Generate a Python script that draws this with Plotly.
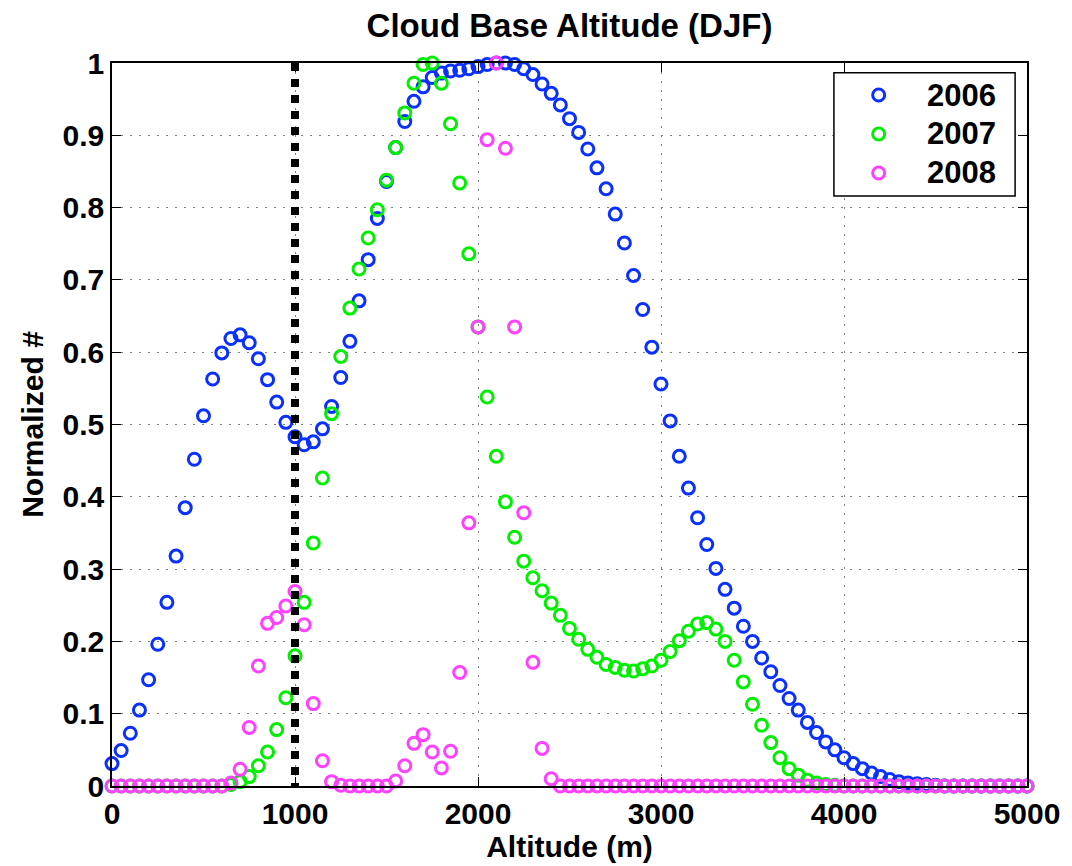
import plotly.graph_objects as go

# Altitude bins (m), 50 m spacing
altitude = list(range(0, 5001, 50))

# Normalized cloud-base counts per bin
y2006 = [
    0.031, 0.049, 0.073, 0.105, 0.147, 0.196, 0.254, 0.318, 0.385, 0.452,
    0.512, 0.563, 0.599, 0.619, 0.624, 0.613, 0.591, 0.562, 0.531, 0.503,
    0.483, 0.472, 0.476, 0.494, 0.525, 0.565, 0.615, 0.671, 0.728, 0.785,
    0.836, 0.883, 0.919, 0.947, 0.967, 0.980, 0.986, 0.989, 0.990, 0.992,
    0.995, 0.998, 1.000, 1.000, 0.998, 0.992, 0.984, 0.971, 0.958, 0.942,
    0.923, 0.904, 0.881, 0.855, 0.826, 0.791, 0.751, 0.706, 0.659, 0.607,
    0.556, 0.505, 0.456, 0.412, 0.371, 0.334, 0.301, 0.272, 0.246, 0.221,
    0.200, 0.177, 0.158, 0.139, 0.121, 0.105, 0.088, 0.074, 0.061, 0.050,
    0.039, 0.031, 0.024, 0.018, 0.013, 0.009, 0.006, 0.004, 0.003, 0.002,
    0.001, 0.0, 0.0, 0.0, 0.0, 0.0, 0.0, 0.0, 0.0, 0.0,
    0.0,
]
y2007 = [
    0.0, 0.0, 0.0, 0.0, 0.0, 0.0, 0.0, 0.0, 0.0, 0.0,
    0.0, 0.0, 0.0, 0.002, 0.006, 0.013, 0.028, 0.047, 0.078, 0.122,
    0.180, 0.254, 0.336, 0.426, 0.515, 0.594, 0.661, 0.715, 0.758, 0.797,
    0.838, 0.883, 0.931, 0.972, 0.998, 1.000, 0.972, 0.916, 0.834, 0.736,
    0.635, 0.538, 0.456, 0.393, 0.344, 0.311, 0.288, 0.270, 0.253, 0.236,
    0.218, 0.203, 0.189, 0.178, 0.168, 0.164, 0.160, 0.159, 0.162, 0.166,
    0.174, 0.186, 0.201, 0.214, 0.224, 0.226, 0.217, 0.200, 0.174, 0.144,
    0.113, 0.084, 0.060, 0.039, 0.024, 0.015, 0.008, 0.004, 0.002, 0.001,
    0.0, 0.0, 0.0, 0.0, 0.0, 0.0, 0.0, 0.0, 0.0, 0.0,
    0.0, 0.0, 0.0, 0.0, 0.0, 0.0, 0.0, 0.0, 0.0, 0.0,
    0.0,
]
y2008 = [
    0.0, 0.0, 0.0, 0.0, 0.0, 0.0, 0.0, 0.0, 0.0, 0.0,
    0.0, 0.0, 0.0, 0.004, 0.023, 0.081, 0.166, 0.225, 0.233, 0.249,
    0.269, 0.223, 0.114, 0.035, 0.006, 0.001, 0.0, 0.0, 0.0, 0.0,
    0.0, 0.007, 0.028, 0.059, 0.071, 0.047, 0.025, 0.048, 0.157, 0.364,
    0.635, 0.894, 1.000, 0.882, 0.635, 0.378, 0.171, 0.052, 0.010, 0.0,
    0.0, 0.0, 0.0, 0.0, 0.0, 0.0, 0.0, 0.0, 0.0, 0.0,
    0.0, 0.0, 0.0, 0.0, 0.0, 0.0, 0.0, 0.0, 0.0, 0.0,
    0.0, 0.0, 0.0, 0.0, 0.0, 0.0, 0.0, 0.0, 0.0, 0.0,
    0.0, 0.0, 0.0, 0.0, 0.0, 0.0, 0.0, 0.0, 0.0, 0.0,
    0.0, 0.0, 0.0, 0.0, 0.0, 0.0, 0.0, 0.0, 0.0, 0.0,
    0.0,
]

series_names = ["2006", "2007", "2008"]
series_colors = ["#0a30ff", "#00ee00", "#ff40ff"]

# Reference altitude marked by the vertical dotted line
threshold_alt = [1000, 1000]
threshold_y = [1, 0]

x_ticks = [0, 1000, 2000, 3000, 4000, 5000]
x_ticklabels = ["0", "1000", "2000", "3000", "4000", "5000"]
y_ticks = [0, 0.1, 0.2, 0.3, 0.4, 0.5, 0.6, 0.7, 0.8, 0.9, 1]
y_ticklabels = ["0", "0.1", "0.2", "0.3", "0.4", "0.5", "0.6", "0.7", "0.8", "0.9", "1"]

FONT = "Liberation Sans"
MARKER_SIZE = 12
MARKER_LW = 3

fig = go.Figure()
for name, ys, col in zip(series_names, [y2006, y2007, y2008], series_colors):
    fig.add_trace(go.Scatter(
        x=altitude, y=ys, name=name, mode="markers",
        cliponaxis=False, showlegend=False,
        marker=dict(symbol="circle-open", size=MARKER_SIZE, color=col,
                    line=dict(width=MARKER_LW, color=col)),
    ))

fig.add_trace(go.Scatter(
    x=threshold_alt, y=threshold_y, mode="lines", showlegend=False,
    cliponaxis=False, hoverinfo="skip",
    line=dict(color="black", width=8, dash="8px,8px"),
))

axis_common = dict(
    showline=True, linecolor="black", linewidth=1.5, mirror="ticks",
    ticks="inside", ticklen=9, tickwidth=1, tickcolor="black",
    showgrid=True, gridcolor="#808080", gridwidth=1, griddash="2px,7px",
    zeroline=False,
    tickfont=dict(family=FONT, size=30, color="black", weight="bold"),
)

# Legend box in the upper-right corner of the axes (paper coordinates)
legend_box = dict(x0=0.789, x1=0.987, y0=0.816, y1=0.9866)
legend_marker_x = 0.8379
legend_text_x = 0.889
legend_rows_y = [0.9557, 0.9018, 0.8479]

fig.add_shape(
    type="rect", xref="paper", yref="paper", **legend_box,
    line=dict(color="black", width=1.5), fillcolor="white", layer="above",
)
r = MARKER_SIZE / 2
for name, col, ry in zip(series_names, series_colors, legend_rows_y):
    fig.add_shape(
        type="circle", xref="paper", yref="paper",
        xsizemode="pixel", ysizemode="pixel",
        xanchor=legend_marker_x, yanchor=ry,
        x0=-r, x1=r, y0=-r, y1=r,
        line=dict(color=col, width=MARKER_LW), fillcolor="rgba(0,0,0,0)",
        layer="above",
    )
    fig.add_annotation(
        x=legend_text_x, y=ry, xref="paper", yref="paper",
        text=name, showarrow=False, xanchor="left", yanchor="middle",
        font=dict(family=FONT, size=31, color="black", weight="bold"),
    )

fig.update_layout(
    width=1072, height=866,
    margin=dict(l=112, r=41, t=63, b=80),
    paper_bgcolor="white", plot_bgcolor="white",
    font=dict(family=FONT, color="black", weight="bold"),
    title=dict(
        text="Cloud Base Altitude (DJF)",
        x=0.5, xref="paper", y=1 - 25 / 866, yref="container",
        xanchor="center", yanchor="middle",
        font=dict(family=FONT, size=33, color="black", weight="bold"),
    ),
    xaxis=dict(
        range=[0, 5000], tickvals=x_ticks, ticktext=x_ticklabels,
        title=dict(text="Altitude (m)", standoff=2,
                   font=dict(family=FONT, size=30, color="black", weight="bold")),
        **axis_common,
    ),
    yaxis=dict(
        range=[0, 1], tickvals=y_ticks, ticktext=y_ticklabels,
        ticklabelstandoff=0,
        title=dict(text="Normalized #", standoff=10,
                   font=dict(family=FONT, size=30, color="black", weight="bold")),
        **axis_common,
    ),
    showlegend=False,
)

fig.write_html("out.html")
